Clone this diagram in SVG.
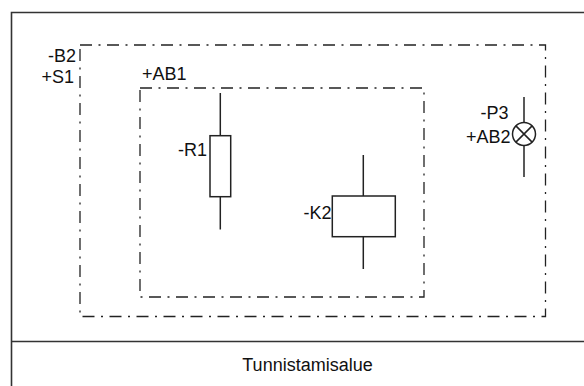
<svg xmlns="http://www.w3.org/2000/svg" width="584" height="386" viewBox="0 0 584 386">
<style>
.frame{fill:none;stroke:#333;stroke-width:1.6}
.loc{fill:none;stroke:#222;stroke-width:1.3;stroke-dasharray:12 6.5 2 6.5}
.sym{fill:#fff;stroke:#222;stroke-width:1.5}
.wire{stroke:#222;stroke-width:1.5}
text{font-family:"Liberation Sans",Arial,sans-serif;font-size:18px;fill:#111}
.r{text-anchor:end}
</style>
<rect width="584" height="386" fill="#fff"/>
<g id="frame">
<path class="frame" d="M11.5 386V12.5H584M11.5 341.5H584"/>
<text x="307.5" y="371" text-anchor="middle">Tunnistamisalue</text>
</g>
<g id="loc-S1">
<rect class="loc" x="80" y="45" width="465.5" height="271.5"/>
<text class="r" x="76" y="62">-B2</text>
<text class="r" x="74" y="83">+S1</text>
</g>
<g id="loc-AB1">
<rect class="loc" x="140" y="88" width="284" height="209"/>
<text x="142" y="80">+AB1</text>
</g>
<g id="R1">
<line class="wire" x1="220.3" y1="93" x2="220.3" y2="229.5"/>
<rect class="sym" x="210" y="135.7" width="20.7" height="61"/>
<text class="r" x="207" y="155.7">-R1</text>
</g>
<g id="K2">
<line class="wire" x1="363.3" y1="155" x2="363.3" y2="269"/>
<rect class="sym" x="332.3" y="196" width="63" height="40.7"/>
<text class="r" x="331.5" y="219">-K2</text>
</g>
<g id="P3">
<line class="wire" x1="524" y1="97" x2="524" y2="177"/>
<circle class="sym" cx="524" cy="134" r="11.5"/>
<path class="wire" d="M515.9 125.9L532.1 142.1M532.1 125.9L515.9 142.1"/>
<text class="r" x="508.5" y="118.5">-P3</text>
<text class="r" x="510.5" y="143">+AB2</text>
</g>
<g id="connectors"></g>
</svg>
